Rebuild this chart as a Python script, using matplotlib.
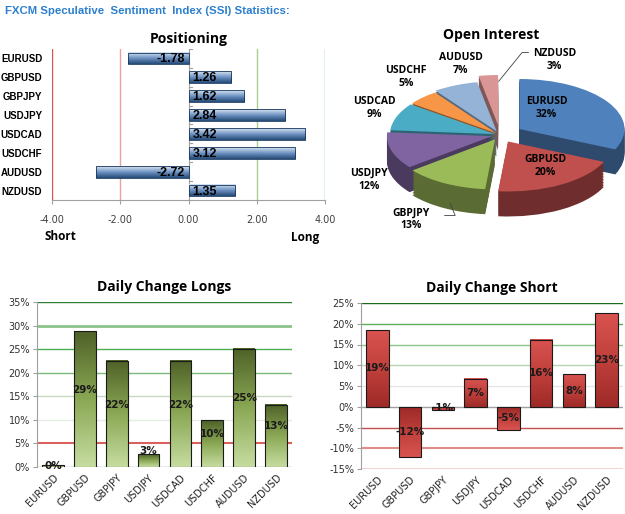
import matplotlib
matplotlib.use('Agg')
import matplotlib.pyplot as plt
import numpy as np
from matplotlib.colors import LinearSegmentedColormap, to_rgb

pairs = ['EURUSD', 'GBPUSD', 'GBPJPY', 'USDJPY', 'USDCAD', 'USDCHF', 'AUDUSD', 'NZDUSD']

# positioning ratios
ssi = [-1.78, 1.26, 1.62, 2.84, 3.42, 3.12, -2.72, 1.35]

# open interest (%)
oi = [32, 20, 13, 12, 9, 5, 7, 3]
oi_colors = ['#4f81bd', '#c0504d', '#9bbb59', '#8064a2', '#4bacc6', '#f79646', '#95b3d7', '#d99694']

# daily changes (%)
longs = [0.4, 28.8, 22.5, 2.7, 22.5, 9.9, 25.1, 13.2]
longs_lbl = ['0%', '29%', '22%', '3%', '22%', '10%', '25%', '13%']
shorts = [18.5, -12.0, -0.7, 6.8, -5.5, 16.2, 7.8, 22.5]
shorts_lbl = ['19%', '-12%', '-1%', '7%', '-5%', '16%', '8%', '23%']

TITLE_FONT = 'Open Sans'
LBL_FONT = 'Liberation Sans'


def gradient_bars(ax, bars, colors):
    # paint each bar with a gradient image (first colour at the bar's base)
    cmap = LinearSegmentedColormap.from_list('g', colors)
    grad = np.linspace(0, 1, 64).reshape(-1, 1)
    for b in bars:
        x0, y0 = b.get_x(), b.get_y()
        w, h = b.get_width(), b.get_height()
        ax.imshow(grad, extent=[x0, x0 + w, y0, y0 + h], cmap=cmap, aspect='auto',
                  origin='lower', zorder=2, interpolation='bilinear')
        b.set_facecolor('none')
        b.set_zorder(3)


fig = plt.figure(figsize=(6.25, 5.14), dpi=100)
fig.patch.set_facecolor('white')

fig.text(0.008, 0.988, 'FXCM Speculative  Sentiment  Index (SSI) Statistics:',
         color='#2b7fce', fontsize=8.2, fontweight='bold', va='top', ha='left',
         family=['Liberation Sans Narrow', 'Liberation Sans'])

# ---------------- Positioning ----------------
ax1 = fig.add_axes([52 / 625, 1 - 200 / 514, 273 / 625, 151 / 514])
y = np.arange(len(pairs))
bars = ax1.barh(y, ssi, height=0.62, edgecolor='#17375e', linewidth=0.6)
gradient_bars(ax1, bars, ['#dbe6f3', '#6f93c2', '#244a78'])
ax1.set_xlim(-4, 4)
ax1.set_ylim(len(pairs) - 0.5, -0.5)
for xv, c in [(-4, '#d9534f'), (-2, '#e8a2a0'), (2, '#a9d18e'), (4, '#5cb85c')]:
    ax1.axvline(xv, color=c, lw=1.0, zorder=1)
ax1.axvline(0, color='#a0a0a0', lw=0.8, zorder=1)
for s in ['top', 'right', 'left']:
    ax1.spines[s].set_visible(False)
ax1.spines['bottom'].set_color('#a0a0a0')
ax1.set_xticks([-4, -2, 0, 2, 4])
ax1.set_xticklabels(['-4.00', '-2.00', '0.00', '2.00', '4.00'], color='#404040', fontsize=7)
ax1.tick_params(axis='x', length=3, color='#a0a0a0', pad=8)
ax1.set_yticks(y)
ax1.set_yticklabels(pairs, fontsize=7, fontweight='bold', family=LBL_FONT)
ax1.tick_params(axis='y', length=0, pad=7)
for yi, v in zip(y, ssi):
    txt = f'{v:.2f}'
    if v < 0:
        ax1.text(-0.12, yi + 0.05, txt, ha='right', va='center', fontsize=9,
                 fontweight='bold', family=LBL_FONT, zorder=4)
    else:
        ax1.text(0.12, yi + 0.05, txt, ha='left', va='center', fontsize=9,
                 fontweight='bold', family=LBL_FONT, zorder=4)
# small ticks on the zero line between rows
for yi in np.arange(-0.5, len(pairs) + 0.5, 1):
    ax1.plot([0, 0.1], [yi, yi], color='#a0a0a0', lw=0.8, zorder=1)
ax1.set_title('Positioning', fontsize=10, fontweight='bold', family=TITLE_FONT, pad=4)
fig.text(60 / 625, 1 - 237 / 514, 'Short', fontsize=8.5, fontweight='bold', ha='center', va='center', family=TITLE_FONT)
fig.text(305 / 625, 1 - 238 / 514, 'Long', fontsize=8.5, fontweight='bold', ha='center', va='center', family=TITLE_FONT)

# ---------------- Open Interest (pseudo 3D pie) ----------------
ax2 = fig.add_axes([375 / 625, 1 - 235 / 514, 250 / 625, 195 / 514])
explode = [0.22, 0.15, 0.1, 0.08, 0.05, 0.05, 0.08, 0.2]
depth = 0.5
nlay = 16
dark = [tuple(np.array(to_rgb(c)) * 0.58) for c in oi_colors]
for k in range(nlay, 0, -1):
    off = depth * k / nlay
    ax2.pie(oi, colors=dark, explode=explode, startangle=90, counterclock=False,
            center=(0, -off), wedgeprops=dict(linewidth=0))
wedges, _ = ax2.pie(oi, colors=oi_colors, explode=explode, startangle=90, counterclock=False,
                    center=(0, 0), wedgeprops=dict(linewidth=0))
ax2.set_aspect('auto')
ax2.set_xlim(-1.19, 1.19)
ax2.set_ylim(-2.0, 1.9)
ax2.axis('off')
fig.text(491 / 625, 1 - 35 / 514, 'Open Interest', fontsize=10, fontweight='bold',
         family=TITLE_FONT, ha='center', va='center')
lab_r = [0.50, 0.61, 1.79, 1.46, 1.26, 1.41, 1.39, 1.40]
lab_da = [26, 5, 2, 20, -4, -7, -9, -28]
for w, name, pct, r, da in zip(wedges, pairs, oi, lab_r, lab_da):
    mid = (w.theta1 + w.theta2) / 2
    ang = np.deg2rad(mid + da)
    cx, cy = w.center
    lx, ly = cx + r * np.cos(ang), cy + r * np.sin(ang)
    ax2.text(lx, ly, f'{name}\n{pct}%', ha='center', va='center', fontsize=7.5,
             fontweight='bold', family=TITLE_FONT, linespacing=1.25, zorder=5)
    # leader lines for the small outer labels
    m = np.deg2rad(mid)
    ex, ey = cx + np.cos(m), cy + np.sin(m)
    if name == 'GBPJPY':
        ax2.plot([lx + 0.32, lx + 0.42, ex + 0.05], [ly + 0.08, ly + 0.08, ey - 0.4],
                 color='#404040', lw=0.6, zorder=5)
    if name == 'NZDUSD':
        ax2.plot([lx - 0.25, lx - 0.31, ex + 0.1], [ly + 0.16, ly + 0.16, ey - 0.12],
                 color='#404040', lw=0.6, zorder=5)

# ---------------- Daily change bars ----------------
def change_axes(rect, vals, lbls, ymin, ymax, grid, bar_cols, title, lbl_shift):
    ax = fig.add_axes(rect)
    x = np.arange(len(vals))
    bs = ax.bar(x, vals, width=0.68, edgecolor='#1a1a1a', linewidth=0.8)
    gradient_bars(ax, bs, bar_cols)
    ax.set_xlim(-0.5, len(vals) - 0.5)
    ax.set_ylim(ymin, ymax)
    for gv, c, lw in grid:
        ax.axhline(gv, color=c, lw=lw, zorder=1)
    for s in ['top', 'right', 'bottom']:
        ax.spines[s].set_visible(False)
    ax.spines['left'].set_color('#a0a0a0')
    ax.set_yticks(np.arange(ymin, ymax + 1, 5))
    ax.set_yticklabels([f'{v}%' for v in range(ymin, ymax + 1, 5)], fontsize=7, color='#303030')
    ax.tick_params(axis='y', length=3, color='#a0a0a0', pad=2)
    ax.set_xticks(x)
    ax.set_xticklabels(pairs, rotation=45, ha='right', rotation_mode='anchor', fontsize=7, color='#202020')
    ax.tick_params(axis='x', length=0, pad=4)
    for xi, v, t in zip(x, vals, lbls):
        ly = v / 2 + (lbl_shift if abs(v) > 2 else 0)
        ax.text(xi, ly, t, ha='center', va='center',
                fontsize=7.5, fontweight='bold', color='#1a1a1a', zorder=5)
    ax.set_title(title, fontsize=10, fontweight='bold', family=TITLE_FONT, pad=8)
    return ax

grid_l = [(35, '#2e7d32', 1.0), (30, '#8bc48a', 2.0), (25, '#4caf50', 1.0), (20, '#7cb87a', 1.0),
          (15, '#c8d8c0', 1.0), (10, '#e4ece4', 1.0), (5, '#d9625e', 1.5), (0, '#a0a0a0', 1.0)]
change_axes([37 / 625, 1 - 467 / 514, 255 / 625, 165 / 514], longs, longs_lbl, 0, 35, grid_l,
            ['#c6dca0', '#8aa854', '#4f6228'], 'Daily Change Longs', 2)

grid_s = [(25, '#1e6b1e', 1.0), (20, '#5cae5a', 1.0), (15, '#8cc48a', 1.0), (10, '#b5d6b2', 1.0),
          (5, '#e6e6e6', 1.0), (0, '#a0a0a0', 1.0), (-5, '#c0504d', 1.0), (-10, '#e08c8a', 1.5),
          (-15, '#c0272d', 1.0)]
change_axes([361 / 625, 1 - 469 / 514, 262 / 625, 166 / 514], shorts, shorts_lbl, -15, 25, grid_s,
            ['#9e2a27', '#c0403c', '#d9534f'], 'Daily Change Short', 0)

fig.savefig('out.png', dpi=100, facecolor='white')
